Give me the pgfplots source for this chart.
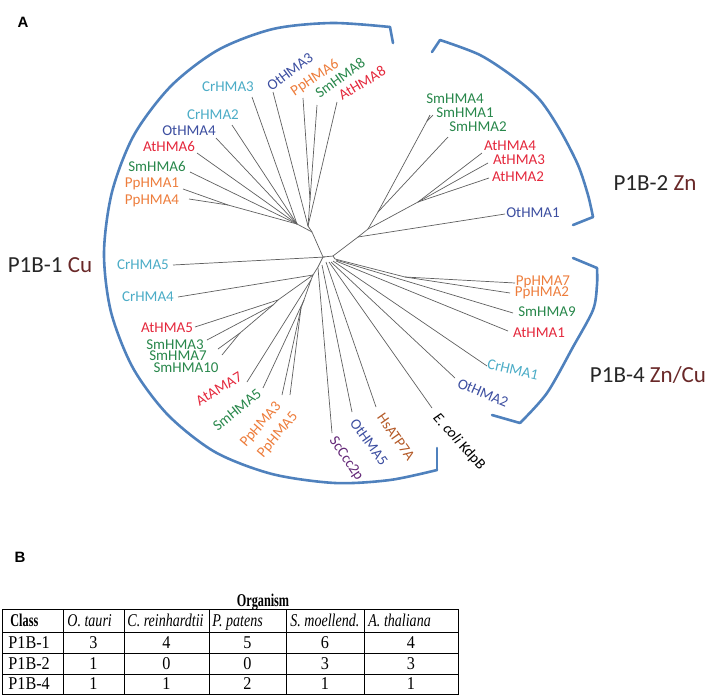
\documentclass[border=0pt]{standalone}
\usepackage{pgfplots}
\pgfplotsset{compat=1.18}
\usepackage{fontspec}
\usepackage{graphicx}
\setmainfont{Carlito}
\newfontfamily\tabfont{Liberation Serif}
\newfontfamily\headfont{Liberation Sans}
\definecolor{cr}{RGB}{75,172,198}
\definecolor{ot}{RGB}{60,78,160}
\definecolor{pp}{RGB}{237,125,60}
\definecolor{sm}{RGB}{40,135,75}
\definecolor{at}{RGB}{228,40,60}
\definecolor{hs}{RGB}{180,90,40}
\definecolor{sc}{RGB}{100,40,120}
\definecolor{cu}{RGB}{105,40,40}
\definecolor{arcc}{RGB}{79,129,189}
\definecolor{treec}{RGB}{95,95,95}
\tikzset{lab/.style={inner sep=0pt, font=\fontsize{7.5}{9}\selectfont}}
\pgfplotsset{tree/.style={treec, line width=0.35pt, no marks, forget plot},
  arcst/.style={arcc, line width=1.3pt, no marks, forget plot, line join=round, line cap=round}}
\newcommand\br[4]{\addplot[tree] coordinates {(#1,#2) (#3,#4)};}
\newcommand\lbl[5]{\node[lab,text=#4,rotate=#3] at (axis cs:#1,#2) {#5};}
\newcommand\hl[1]{\draw[black, line width=0.5pt] (axis cs:2,#1) -- (axis cs:458,#1);}
\newcommand\vl[1]{\draw[black, line width=0.5pt] (axis cs:#1,609) -- (axis cs:#1,694);}
\newcommand\tb[1]{\scalebox{0.68}[1]{\bfseries #1}}
\newcommand\ti[1]{\scalebox{0.78}[1]{\itshape #1}}
\newcommand\tu[1]{\scalebox{0.9}[1]{#1}}
\begin{document}
\begin{tikzpicture}
\begin{axis}[scale only axis, width=354pt, height=348.5pt,
  xmin=0, xmax=708, ymin=0, ymax=697, y dir=reverse, hide axis, clip=false]
\path (axis cs:0,0) rectangle (axis cs:708,697);
% ---- internal branches
\br{323}{257}{312}{232}
\br{312}{232}{297}{224}
\br{312}{232}{308}{226}
\br{297}{224}{228}{205}
\br{308}{226}{310}{200}
\br{323}{257}{333}{256}
\br{333}{256}{358}{237}
\br{358}{237}{368}{229}
\br{368}{229}{378}{212}
\br{378}{212}{427}{121}
\br{368}{229}{418}{202}
\br{335}{259}{405}{277}
\br{323}{257}{318}{267}
\br{318}{267}{313}{275}
\br{313}{275}{278}{300}
\br{278}{300}{273}{305}
\br{273}{305}{240}{333}
\br{313}{275}{311}{280}
\br{311}{280}{304}{300}
\br{304}{300}{301}{308}
\br{333}{256}{335}{259}
% ---- leaves, upper-left
\br{252}{97}{297}{224}
\br{273}{92}{308}{226}
\br{303}{98}{310}{200}
\br{317}{105}{310}{200}
\br{337}{102}{308}{226}
\br{232}{125}{297}{224}
\br{216}{138}{297}{224}
\br{197}{153}{297}{224}
\br{190}{172}{297}{224}
\br{183}{189}{228}{205}
\br{189}{199}{228}{205}
\br{173}{265}{325}{257}
% ---- leaves, Zn
\br{430}{115}{427}{121}
\br{433}{115}{427}{121}
\br{448}{137}{378}{212}
\br{482}{153}{418}{202}
\br{488}{163}{418}{202}
\br{489}{178}{418}{202}
\br{505}{214}{358}{237}
% ---- leaves, Zn/Cu and outgroups
\br{515}{283}{405}{277}
\br{510}{293}{405}{277}
\br{513}{313}{336}{260}
\br{508}{331}{336}{261}
\br{487}{366}{333}{261}
\br{455}{378}{331}{262}
\br{432}{408}{329}{262}
\br{376}{407}{326}{262}
\br{352}{412}{322}{265}
\br{332}{433}{318}{268}
% ---- leaves, lower-left
\br{178}{297}{313}{275}
\br{195}{327}{278}{300}
\br{207}{340}{273}{305}
\br{218}{349}{240}{333}
\br{222}{355}{240}{333}
\br{247}{382}{311}{280}
\br{263}{388}{304}{300}
\br{282}{395}{301}{308}
\br{290}{395}{301}{308}
% ---- arcs
\addplot[arcst] coordinates {(393,43) (390,27)};
\addplot[arcst, smooth] coordinates {(390,27) (332,23) (273,29) (218,50) (171,86) (134,135) (112,192) (104,253) (111,312) (133,368) (168,415) (215,452) (272,474) (335,483) (390,480) (437,470)};
\addplot[arcst] coordinates {(437,470) (437,448)};
\addplot[arcst] coordinates {(432,52) (440,40)};
\addplot[arcst, smooth] coordinates {(440,40) (480,55) (515,78) (540,100) (560,130) (578,165) (588,195) (593,217)};
\addplot[arcst] coordinates {(593,217) (573,225)};
\addplot[arcst] coordinates {(573,258) (597,268)};
\addplot[arcst, smooth] coordinates {(597,268) (597,285) (593,310) (573,347) (547,393) (520,423)};
\addplot[arcst] coordinates {(520,423) (492,415)};
% ---- labels
\lbl{228}{87}{0}{cr}{CrHMA3}
\lbl{290}{72}{37}{ot}{OtHMA3}
\lbl{315}{78}{34}{pp}{PpHMA6}
\lbl{340}{78}{36}{sm}{SmHMA8}
\lbl{362}{83}{31}{at}{AtHMA8}
\lbl{213}{115}{0}{cr}{CrHMA2}
\lbl{189}{131}{0}{ot}{OtHMA4}
\lbl{169}{146}{0}{at}{AtHMA6}
\lbl{157}{166}{0}{sm}{SmHMA6}
\lbl{152}{184}{0}{pp}{PpHMA1}
\lbl{152}{201}{0}{pp}{PpHMA4}
\lbl{143}{265}{0}{cr}{CrHMA5}
\lbl{455}{99}{0}{sm}{SmHMA4}
\lbl{465}{113}{0}{sm}{SmHMA1}
\lbl{478}{127}{0}{sm}{SmHMA2}
\lbl{510}{146}{0}{at}{AtHMA4}
\lbl{519}{160}{0}{at}{AtHMA3}
\lbl{518}{177}{0}{at}{AtHMA2}
\lbl{533}{213}{0}{ot}{OtHMA1}
\lbl{543}{282}{0}{pp}{PpHMA7}
\lbl{542}{293}{0}{pp}{PpHMA2}
\lbl{547}{312}{0}{sm}{SmHMA9}
\lbl{539}{333}{0}{at}{AtHMA1}
\lbl{513}{370}{-13}{cr}{CrHMA1}
\lbl{483}{393}{-23}{ot}{OtHMA2}
\lbl{459}{442}{-48}{black}{\textit{E. coli} KdpB}
\lbl{396}{437}{-55}{hs}{HsATP7A}
\lbl{369}{442}{-54}{ot}{OtHMA5}
\lbl{346}{459}{-56}{sc}{ScCcc2p}
\lbl{148}{297}{0}{cr}{CrHMA4}
\lbl{167}{328}{0}{at}{AtHMA5}
\lbl{175}{345}{0}{sm}{SmHMA3}
\lbl{178}{356}{0}{sm}{SmHMA7}
\lbl{186}{368}{0}{sm}{SmHMA10}
\lbl{219}{389}{31}{at}{AtAMA7}
\lbl{237}{410}{39}{sm}{SmHMA5}
\lbl{261}{425}{49}{pp}{PpHMA3}
\lbl{278}{435}{50}{pp}{PpHMA5}
% ---- clade names
\node[inner sep=0pt, font=\fontsize{11.5}{13}\selectfont, text=black!85] at (axis cs:50,265) {P1B-1 \textcolor{cu}{Cu}};
\node[inner sep=0pt, font=\fontsize{11.5}{13}\selectfont, text=black!85] at (axis cs:655,183) {P1B-2 \textcolor{cu}{Zn}};
\node[inner sep=0pt, font=\fontsize{11.5}{13}\selectfont, text=black!85] at (axis cs:648,375) {P1B-4 \textcolor{cu}{Zn/Cu}};
% ---- panel letters
\node[inner sep=0pt, font=\headfont\bfseries\fontsize{7.5}{9}\selectfont] at (axis cs:23,22) {A};
\node[inner sep=0pt, font=\headfont\bfseries\fontsize{7.5}{9}\selectfont] at (axis cs:20,557) {B};
% ---- table
\draw[black, line width=0.5pt] (axis cs:2,609) rectangle (axis cs:458,694);
\hl{632}
\hl{653}
\hl{674}
\vl{63}
\vl{124}
\vl{209}
\vl{286}
\vl{364}
\begin{scope}[every node/.style={inner sep=0pt, font=\tabfont\fontsize{9}{10}\selectfont}]
\node[anchor=base] at (axis cs:263,606) {\tb{Organism}};
\node[anchor=base west] at (axis cs:10,626) {\tb{Class}};
\node[anchor=base west] at (axis cs:67,626) {\ti{O. tauri}};
\node[anchor=base west] at (axis cs:127,626) {\ti{C. reinhardtii}};
\node[anchor=base west] at (axis cs:212,626) {\ti{P. patens}};
\node[anchor=base west] at (axis cs:290,626) {\ti{S. moellend.}};
\node[anchor=base west] at (axis cs:368,626) {\ti{A. thaliana}};
\node[anchor=base west] at (axis cs:8,648) {\tu{P1B-1}};
\node[anchor=base west] at (axis cs:8,669) {\tu{P1B-2}};
\node[anchor=base west] at (axis cs:8,689.5) {\tu{P1B-4}};
\node[anchor=base] at (axis cs:93.5,648) {\tu{3}};
\node[anchor=base] at (axis cs:166.5,648) {\tu{4}};
\node[anchor=base] at (axis cs:247.5,648) {\tu{5}};
\node[anchor=base] at (axis cs:325,648) {\tu{6}};
\node[anchor=base] at (axis cs:411,648) {\tu{4}};
\node[anchor=base] at (axis cs:93.5,669) {\tu{1}};
\node[anchor=base] at (axis cs:166.5,669) {\tu{0}};
\node[anchor=base] at (axis cs:247.5,669) {\tu{0}};
\node[anchor=base] at (axis cs:325,669) {\tu{3}};
\node[anchor=base] at (axis cs:411,669) {\tu{3}};
\node[anchor=base] at (axis cs:93.5,689.5) {\tu{1}};
\node[anchor=base] at (axis cs:166.5,689.5) {\tu{1}};
\node[anchor=base] at (axis cs:247.5,689.5) {\tu{2}};
\node[anchor=base] at (axis cs:325,689.5) {\tu{1}};
\node[anchor=base] at (axis cs:411,689.5) {\tu{1}};
\end{scope}
\end{axis}
\end{tikzpicture}
\end{document}
